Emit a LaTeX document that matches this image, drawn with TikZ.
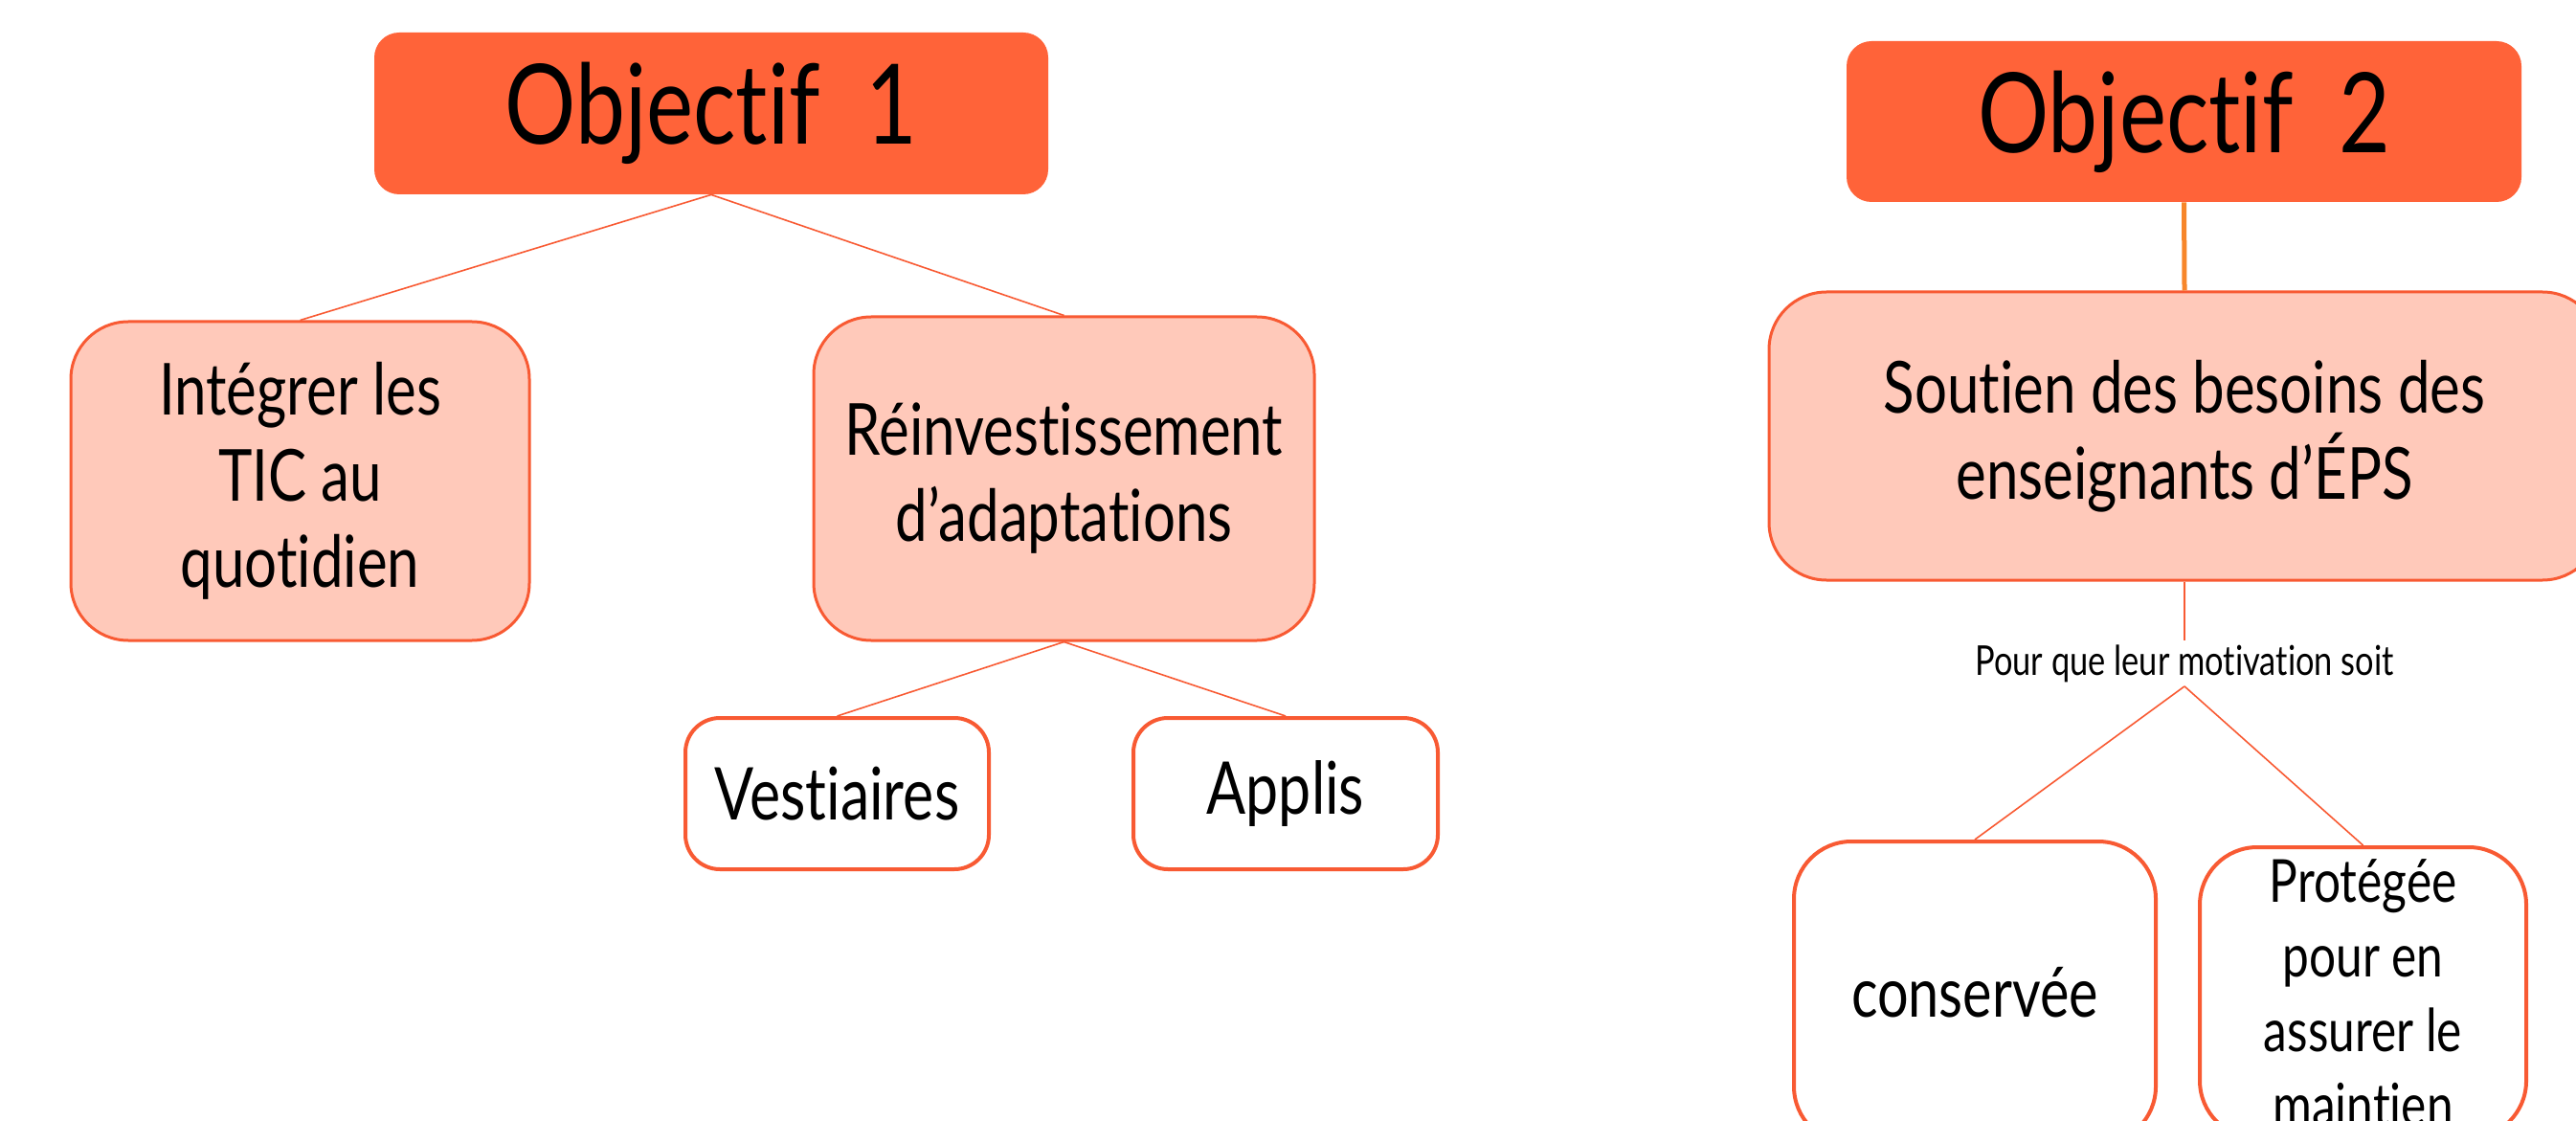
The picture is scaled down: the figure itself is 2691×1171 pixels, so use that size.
\documentclass[tikz,border=0pt]{standalone}
\usepackage{fontspec}
\setmainfont{Lato}[FakeStretch=0.8, Ligatures={NoCommon}]
\definecolor{objfill}{HTML}{FF6339}
\definecolor{lightfill}{HTML}{FFC9BA}
\definecolor{edgecol}{HTML}{F85A33}
\definecolor{stemcol}{HTML}{F7862A}
\begin{document}
\begin{tikzpicture}[x=0.5pt,y=-0.5pt,
  objbox/.style={rectangle, rounded corners=13pt, fill=objfill, draw=none,
    inner sep=0pt, align=center, font=\fontsize{58}{62}\selectfont},
  softbox/.style={rectangle, rounded corners=30pt, fill=lightfill, draw=edgecol,
    line width=1.5pt, inner sep=0pt, align=center, font=\fontsize{37.5}{45}\selectfont},
  whitebox/.style={rectangle, rounded corners=18pt, fill=white, draw=edgecol,
    line width=2pt, inner sep=0pt, align=center, font=\fontsize{38}{45}\selectfont},
  link/.style={draw=edgecol, line width=0.8pt},
  stemlink/.style={draw=stemcol, line width=2.5pt},
  lbl/.style={inner xsep=0pt, inner ysep=2pt, font=\fontsize{21.5}{24}\selectfont}
]
\useasboundingbox (0,0) rectangle (2691,1171);
\clip (0,0) rectangle (2691,1171);

% Objectif 1 tree
\node[objbox, minimum width=352pt, minimum height=84.5pt] (obj1) at (743,118.5) {Objectif\ \ 1};
\node[softbox, minimum width=239.5pt, minimum height=166.5pt] (integ) at (313.5,502.5)
  {Intégrer les\\TIC au\\quotidien};
\node[softbox, minimum width=261.5pt, minimum height=169pt] (reinv) at (1111.5,500)
  {Réinvestissement\\d’adaptations};
\node[whitebox, minimum width=158.5pt, minimum height=79pt] (vest) at (874.5,829) {Vestiaires};
\node[whitebox, minimum width=159pt, minimum height=79pt] (appl) at (1343,829) {Applis};

\draw[link] (obj1.south) -- (integ.north);
\draw[link] (obj1.south) -- (reinv.north);
\draw[link] (reinv.south) -- (vest.north);
\draw[link] (reinv.south) -- (appl.north);

% Objectif 2 tree
\node[objbox, minimum width=352.5pt, minimum height=84pt] (obj2) at (2281.5,127) {Objectif\ \ 2};
\node[softbox, minimum width=434pt, minimum height=150.5pt] (sout) at (2282,455.5)
  {Soutien des besoins des\\enseignants d’ÉPS};
\node[lbl] (motiv) at (2282,693) {Pour que leur motivation soit};
\node[whitebox, rounded corners=30pt, minimum width=189pt, minimum height=158pt,
  font=\fontsize{36}{40}\selectfont] (cons) at (2063,1037) {conservée};
\node[whitebox, rounded corners=30pt, minimum width=170.5pt, minimum height=152pt,
  font=\fontsize{31}{39}\selectfont] (prot) at (2468.5,1037)
  {Protégée\\pour en\\assurer le\\maintien};

\draw[stemlink] (obj2.south) -- (sout.north);
\draw[link] (sout.south) -- (motiv.north);
\draw[link] (motiv.south) -- (cons.north);
\draw[link] (motiv.south) -- (prot.north);
\end{tikzpicture}
\end{document}
